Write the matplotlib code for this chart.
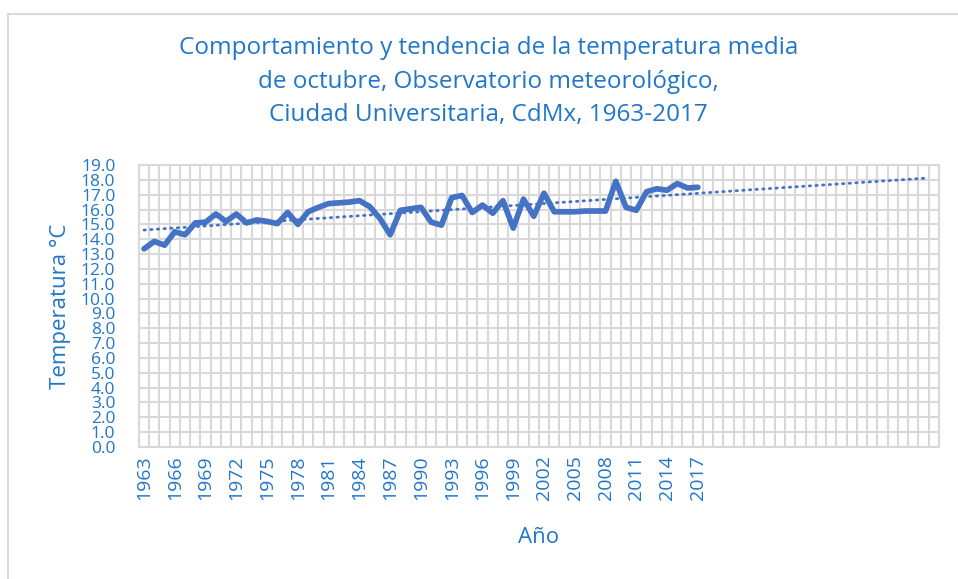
import numpy as np
import matplotlib
matplotlib.use("Agg")
import matplotlib.pyplot as plt
from matplotlib.lines import Line2D

plt.rcParams['font.family'] = ['Open Sans', 'DejaVu Sans']

# mean October temperature, 1963-2017
years = list(range(1963, 2018))
temps = [13.35, 13.85, 13.6, 14.5, 14.3, 15.1, 15.15, 15.7, 15.2, 15.7,
         15.1, 15.3, 15.2, 15.05, 15.8, 15.0, 15.85, 16.15, 16.4, 16.45,
         16.5, 16.6, 16.2, 15.4, 14.3, 15.95, 16.05, 16.15, 15.15, 14.95,
         16.8, 16.95, 15.8, 16.3, 15.75, 16.6, 14.75, 16.7, 15.55, 17.1,
         15.85, 15.85, 15.85, 15.9, 15.9, 15.9, 17.9, 16.15, 15.95, 17.2,
         17.4, 17.3, 17.75, 17.45, 17.5]
n_categories = 78          # axis runs on past 2017 for the trend forecast
forecast_periods = 22.4
tick_years = years[::3]

blue = "#4472c4"
text_blue = "#2176c9"
grid_grey = "#d9d9d9"

fig = plt.figure(figsize=(9.58, 5.79), dpi=100)
ax = fig.add_axes([0.145, 0.228, 0.835, 0.487])

x = np.arange(len(temps))
ax.plot(x, temps, color=blue, linewidth=4.1, solid_joinstyle="round",
        solid_capstyle="round", zorder=3)

# linear trend, extended forward
slope, intercept = np.polyfit(x, temps, 1)
xt = np.array([0, len(temps) - 1 + forecast_periods])
ax.plot(xt, intercept + slope * xt, color=blue, linewidth=2.0,
        linestyle=(0, (0.5, 1.9)), dash_capstyle="round", zorder=2)

ax.set_xlim(-0.5, n_categories - 0.5)
ax.set_ylim(0, 19)

# gridlines between categories and at every degree
for b in np.arange(-0.5, n_categories, 1.0):
    ax.axvline(b, color=grid_grey, linewidth=1.5, zorder=1)
for v in range(0, 20):
    ax.axhline(v, color=grid_grey, linewidth=1.5, zorder=1)

ax.set_yticks(range(0, 20))
ax.set_yticklabels([f"{v:.1f}" for v in range(0, 20)], color=text_blue, fontsize=12.5)
ax.set_xticks([years.index(y) for y in tick_years])
ax.set_xticklabels([str(y) for y in tick_years], rotation=90, color=text_blue, fontsize=14)
ax.tick_params(axis="y", length=0, pad=17)
ax.tick_params(axis="x", length=0, pad=6)
for s in ax.spines.values():
    s.set_color(grid_grey)
    s.set_linewidth(1.5)

ax.set_ylabel("Temperatura °C", color=text_blue, fontsize=16)
ax.set_xlabel("Año", color=text_blue, fontsize=16)
ax.xaxis.set_label_coords(0.499, -0.285)
ax.yaxis.set_label_coords(-0.085, 0.5)

fig.text(0.51, 0.937, "Comportamiento y tendencia de la temperatura media\n"
         "de octubre, Observatorio meteorológico,\n"
         "Ciudad Universitaria, CdMx, 1963-2017",
         ha="center", va="top", color=text_blue, fontsize=17.5, linespacing=1.52)

# chart area border (left and top visible)
fig.add_artist(Line2D([0.008, 0.008], [0.0, 0.975], transform=fig.transFigure,
                      color=grid_grey, linewidth=1.5))
fig.add_artist(Line2D([0.008, 1.0], [0.975, 0.975], transform=fig.transFigure,
                      color=grid_grey, linewidth=1.5))

fig.savefig("out.png", dpi=100)
